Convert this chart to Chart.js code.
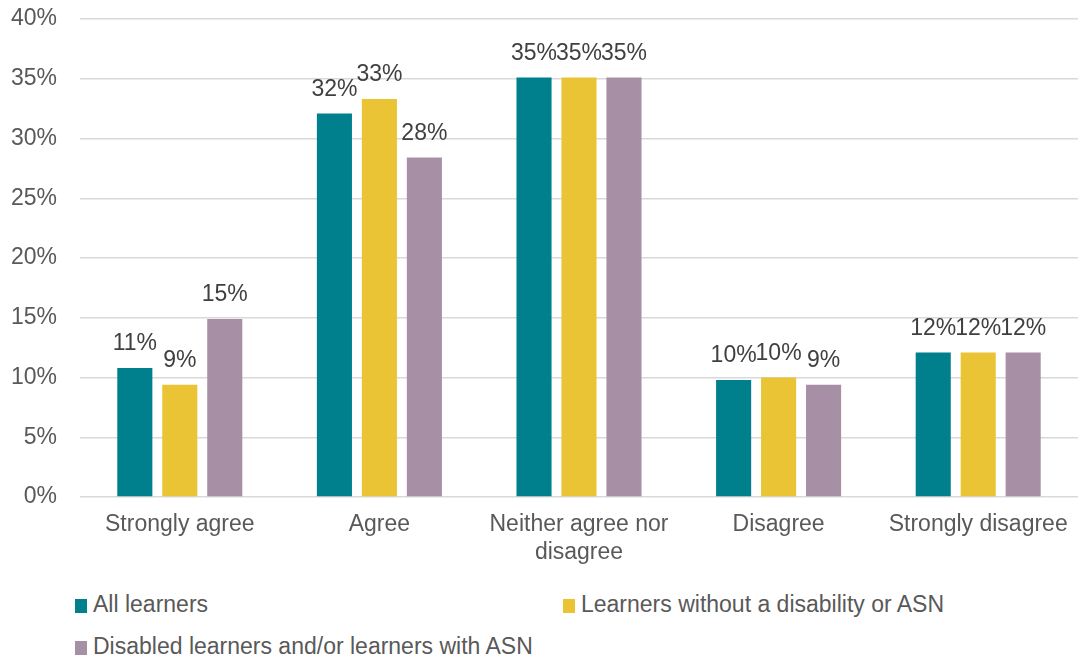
<!DOCTYPE html>
<html>
<head>
<meta charset="utf-8">
<script src="https://cdn.jsdelivr.net/npm/chart.js@4"></script>
<style>
  html, body { margin: 0; padding: 0; background: #fff; }
  #wrap { position: relative; width: 1078px; height: 660px; font-family: "Liberation Sans", Arial, sans-serif; }
  #chart { position: absolute; left: 0; top: 0; }
  .leg { position: absolute; font-size: 23px; color: #595959; white-space: nowrap; line-height: 26px; }
  .leg span { display: inline-block; width: 12px; height: 14px; margin-right: 6px; vertical-align: -1px; }
</style>
</head>
<body>
<div id="wrap">
  <canvas id="chart" width="1078" height="580"></canvas>
  <div class="leg" style="left:75px; top:591px;"><span style="background:#007F8C"></span>All learners</div>
  <div class="leg" style="left:563px; top:591px;"><span style="background:#EAC435"></span>Learners without a disability or ASN</div>
  <div class="leg" style="left:75px; top:633px;"><span style="background:#A78FA5"></span>Disabled learners and/or learners with ASN</div>
</div>
<script>
const categories = ['Strongly agree', 'Agree', ['Neither agree nor', 'disagree'], 'Disagree', 'Strongly disagree'];
const allLearners = [10.8, 32.1, 35.1, 9.8, 12.1];
const withoutDisability = [9.4, 33.3, 35.1, 10.0, 12.1];
const disabledOrAsn = [14.9, 28.4, 35.1, 9.4, 12.1];
const yTicks = [0, 5, 10, 15, 20, 25, 30, 35, 40];

const barLabels = {
    id: 'barLabels',
    afterDatasetsDraw: function (chart) {
        const ctx = chart.ctx;
        ctx.save();
        ctx.font = '23px "Liberation Sans", Arial, sans-serif';
        ctx.fillStyle = '#404040';
        ctx.textAlign = 'center';
        ctx.textBaseline = 'middle';
        chart.data.datasets.forEach(function (ds, i) {
            chart.getDatasetMeta(i).data.forEach(function (bar, j) {
                ctx.fillText(Math.round(ds.data[j]) + '%', bar.x, bar.y - 24);
            });
        });
        ctx.restore();
    }
};

const ctx = document.getElementById('chart').getContext('2d');
new Chart(ctx, {
    type: 'bar',
    data: {
        labels: categories,
        datasets: [
            { label: 'All learners', data: allLearners, backgroundColor: '#007F8C' },
            { label: 'Learners without a disability or ASN', data: withoutDisability, backgroundColor: '#EAC435' },
            { label: 'Disabled learners and/or learners with ASN', data: disabledOrAsn, backgroundColor: '#A78FA5' }
        ]
    },
    options: {
        responsive: false,
        animation: false,
        layout: { padding: { top: 19, right: 0, left: 0, bottom: 0 } },
        datasets: { bar: { categoryPercentage: 0.676, barPercentage: 0.78 } },
        plugins: {
            legend: { display: false },
            tooltip: { enabled: false }
        },
        scales: {
            x: {
                grid: { display: false },
                border: { display: false },
                ticks: {
                    color: '#595959',
                    padding: 6,
                    maxRotation: 0,
                    autoSkip: false,
                    font: { family: '"Liberation Sans", Arial, sans-serif', size: 23, lineHeight: 1.22 }
                },
                afterFit: function (scale) { scale.height = 83; }
            },
            y: {
                min: 0,
                max: 40,
                afterBuildTicks: function (scale) { scale.ticks = yTicks.map(function (v) { return { value: v }; }); },
                grid: { color: '#d9d9d9', lineWidth: 1.5, drawTicks: false },
                border: { display: false },
                ticks: {
                    color: '#595959',
                    padding: 23,
                    font: { family: '"Liberation Sans", Arial, sans-serif', size: 23 },
                    callback: function (v) { return v + '%'; }
                },
                afterFit: function (scale) {
                    scale.width = 80;
                    scale.paddingTop = 0;
                    scale.paddingBottom = 0;
                }
            }
        }
    },
    plugins: [barLabels]
});
</script>
</body>
</html>
